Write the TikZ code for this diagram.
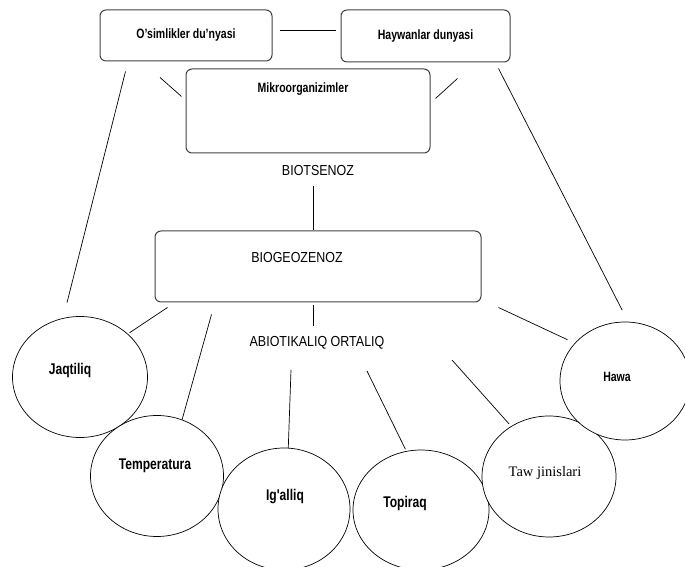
\documentclass[tikz,border=0pt]{standalone}
\usepackage{fontspec}
\newfontfamily\narrowsf[FakeStretch=0.86]{Liberation Sans}
\newfontfamily\boxsf[FakeStretch=0.78]{Liberation Sans Bold}
\newfontfamily\tawrm{Liberation Serif}
\usetikzlibrary{shapes.geometric,positioning,calc}

\begin{document}
\begin{tikzpicture}[x=1pt,y=1pt,line width=0.7pt,
  box/.style={draw=black!75, line width=1pt, rounded corners=6pt},
  blob/.style={draw, ellipse, fill=white, line width=0.7pt},
  head/.style={font=\boxsf\fontsize{13.5}{14}\selectfont},
  word/.style={font=\narrowsf\fontsize{14.5}{15}\selectfont},
  factor/.style={font=\boxsf\fontsize{15.5}{16}\selectfont}]
  \useasboundingbox (0,0) rectangle (685,567);
  % biotic part: the three kingdoms
  \node[box, head, minimum width=172pt, minimum height=51pt] (osim) at (186,531.5) {O’simlikler du’nyasi};
  \node[box, head, minimum width=169pt, minimum height=52pt] (hayw) at (425.5,531) {Haywanlar dunyasi};
  \node[box, minimum width=244pt, minimum height=84pt] (mikro) at (308,456) {};
  \node[head] (mikrolab) at ([shift={(-5,-21)}]mikro.north) {Mikroorganizimler};
  \node[word] (biot) at (318,396) {BIOTSENOZ};
  \node[box, minimum width=326pt, minimum height=71pt] (biogeo) at (318,300.5) {};
  \node[word] (biogeolab) at ([shift={(-21,-27)}]biogeo.north) {BIOGEOZENOZ};
  \node[word] (abiot) at (317,224) {ABIOTIKALIQ ORTALIQ};
  % abiotic factors
  \foreach \nm/\px/\py/\w/\h in {jaq/80/190/135/121, temp/157/91/133/121, igal/284/58/132/122,
      topi/421/57/136/120, taw/549/90.5/134/121, hawa/625/186/130/118}
    \node[blob, minimum width=\w pt, minimum height=\h pt] (\nm) at (\px,\py) {};
  \foreach \nm/\dx/\dy/\txt in {jaq/-10/7/Jaqtiliq, temp/-2/10/Temperatura, igal/1/12/Ig'alliq,
      topi/-16/7/Topiraq}
    \node[factor] (\nm lab) at ([shift={(\dx,\dy)}]\nm.center) {\txt};
  \node[word, font=\tawrm\fontsize{14.5}{15}\selectfont] (tawlab) at ([shift={(-4,3)}]taw.center) {Taw jinislari};
  \node[head] (hawalab) at ([shift={(-8,4)}]hawa.center) {Hawa};
  % links
  \draw ([shift={(7,5.5)}]osim.east) -- ([shift={(-5,6)}]hayw.west);
  \draw ([shift={(-26,-16)}]osim.south) -- ([shift={(-4,-28)}]mikro.north west);
  \draw ([shift={(5,-30)}]mikro.north east) -- ([shift={(32,-16)}]hayw.south);
  \draw[shorten >=16pt] ([shift={(26,-10)}]osim.south west) -- (jaq.106);
  \draw[shorten >=13pt] ([shift={(-12,-6)}]hayw.south east) -- (hawa.87);
  \draw[shorten <=6.5pt] ([xshift=-5pt]biot.south) -- ([xshift=-5pt]biogeo.north);
  \draw[shorten <=3pt, shorten >=7pt] ([xshift=-5pt]biogeo.south) -- ([xshift=-4pt]abiot.north);
  \draw[shorten >=2pt] ([shift={(13,-5)}]biogeo.south west) -- (jaq.42);
  \draw ([shift={(57,-12)}]biogeo.south west) -- (temp.66);
  \draw ([shift={(-26,-27)}]abiot.center) -- (igal.86);
  \draw[shorten >=2pt] ([shift={(50,-28)}]abiot.center) -- (topi.104);
  \draw[shorten >=3pt] ([shift={(135,-17)}]abiot.center) -- (taw.127);
  \draw[shorten >=8pt] ([shift={(17,-5)}]biogeo.south east) -- (hawa.143);
\end{tikzpicture}
\end{document}
